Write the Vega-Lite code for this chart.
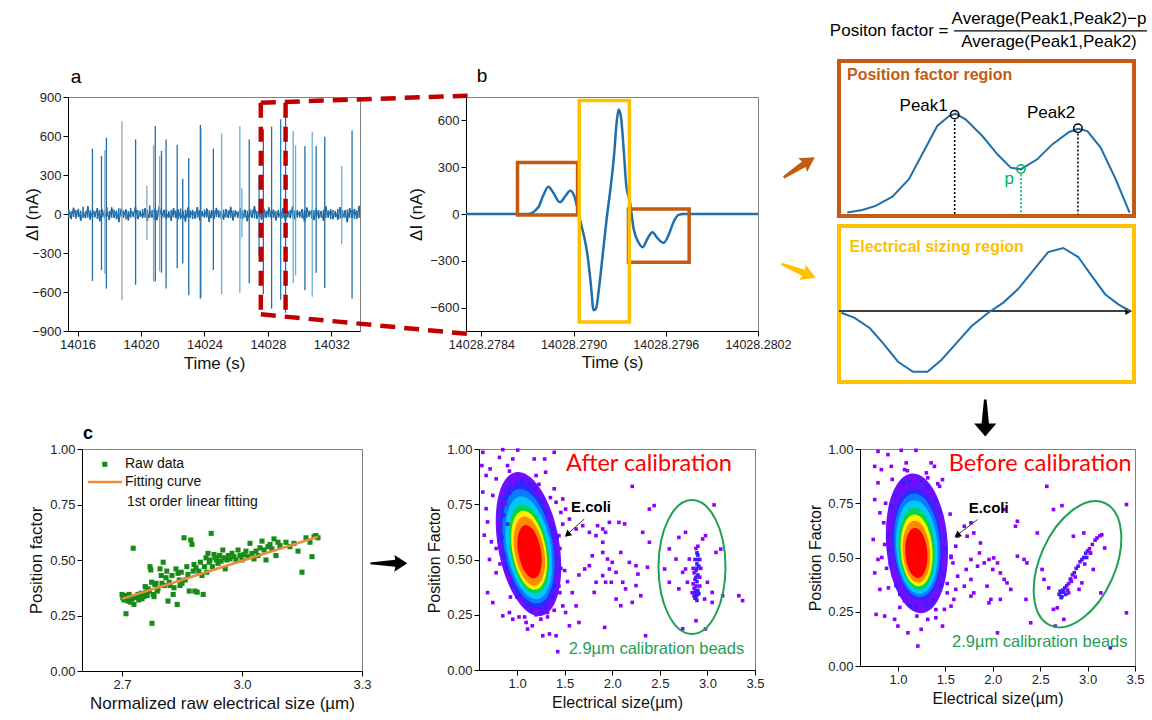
{
"$schema":"https://vega.github.io/schema/vega-lite/v6.json",
"padding":0,
"background":"white",
"config":{"view":{"stroke":null},"font":"Liberation Sans",
 "axis":{"grid":false,"domainColor":"#000","tickColor":"#000","labelColor":"#222","titleColor":"#111","labelFontSize":13,"titleFontSize":17,"titleFontWeight":"normal","labelFont":"Liberation Sans","titleFont":"Liberation Sans","tickSize":5,"domainWidth":1,"tickWidth":1,"labelOverlap":false,"labelFlush":false},
 "text":{"baseline":"middle","font":"Liberation Sans"}},
"datasets":{
"noise":[{"x":14015.45,"y":20},{"x":14015.6,"y":-35},{"x":14015.75,"y":48},{"x":14015.9,"y":-22},{"x":14016.05,"y":30},{"x":14016.2,"y":-50},{"x":14016.35,"y":15},{"x":14016.5,"y":-28},{"x":14016.65,"y":60},{"x":14016.8,"y":-40},{"x":14016.95,"y":25},{"x":14017.1,"y":-18},{"x":14017.25,"y":45},{"x":14017.4,"y":-55},{"x":14017.55,"y":32},{"x":14017.7,"y":-26},{"x":14017.85,"y":18},{"x":14018.0,"y":-44},{"x":14018.15,"y":50},{"x":14018.3,"y":-30},{"x":14018.45,"y":22},{"x":14018.6,"y":-62},{"x":14018.75,"y":40},{"x":14018.9,"y":-20},{"x":14019.05,"y":35},{"x":14019.2,"y":-48},{"x":14019.35,"y":28},{"x":14019.5,"y":-15},{"x":14019.65,"y":55},{"x":14019.8,"y":-38},{"x":14019.95,"y":20},{"x":14020.1,"y":-30},{"x":14020.25,"y":42},{"x":14020.4,"y":-52},{"x":14020.55,"y":26},{"x":14020.7,"y":-24},{"x":14020.85,"y":38},{"x":14021.0,"y":-45},{"x":14021.15,"y":58},{"x":14021.3,"y":-20},{"x":14021.45,"y":30},{"x":14021.6,"y":-36},{"x":14021.75,"y":16},{"x":14021.9,"y":-50},{"x":14022.05,"y":44},{"x":14022.2,"y":-28},{"x":14022.35,"y":34},{"x":14022.5,"y":-40},{"x":14022.65,"y":22},{"x":14022.8,"y":-58},{"x":14022.95,"y":48},{"x":14023.1,"y":-25},{"x":14023.25,"y":30},{"x":14023.4,"y":-33},{"x":14023.55,"y":52},{"x":14023.7,"y":-46},{"x":14023.85,"y":18},{"x":14024.0,"y":-22},{"x":14024.15,"y":40},{"x":14024.3,"y":-60},{"x":14024.45,"y":28},{"x":14024.6,"y":-35},{"x":14024.75,"y":46},{"x":14024.9,"y":-24},{"x":14025.05,"y":20},{"x":14025.2,"y":-42},{"x":14025.35,"y":36},{"x":14025.5,"y":-30},{"x":14025.65,"y":54},{"x":14025.8,"y":-48},{"x":14025.95,"y":24},{"x":14026.1,"y":-18},{"x":14026.25,"y":42},{"x":14026.4,"y":-38},{"x":14026.55,"y":30},{"x":14026.7,"y":-55},{"x":14026.85,"y":22},{"x":14027.0,"y":-26},{"x":14027.15,"y":60},{"x":14027.3,"y":-34},{"x":14027.45,"y":18},{"x":14027.6,"y":-44},{"x":14027.75,"y":38},{"x":14027.9,"y":-28},{"x":14028.05,"y":50},{"x":14028.2,"y":-22},{"x":14028.35,"y":32},{"x":14028.5,"y":-48},{"x":14028.65,"y":26},{"x":14028.8,"y":-36},{"x":14028.95,"y":44},{"x":14029.1,"y":-52},{"x":14029.25,"y":20},{"x":14029.4,"y":-30},{"x":14029.55,"y":56},{"x":14029.7,"y":-40},{"x":14029.85,"y":28},{"x":14030.0,"y":-24},{"x":14030.15,"y":35},{"x":14030.3,"y":-58},{"x":14030.45,"y":48},{"x":14030.6,"y":-20},{"x":14030.75,"y":30},{"x":14030.9,"y":-46},{"x":14031.05,"y":40},{"x":14031.2,"y":-32},{"x":14031.35,"y":22},{"x":14031.5,"y":-50},{"x":14031.65,"y":58},{"x":14031.8,"y":-26},{"x":14031.95,"y":34},{"x":14032.1,"y":-38},{"x":14032.25,"y":20},{"x":14032.4,"y":-44},{"x":14032.55,"y":52},{"x":14032.7,"y":-30},{"x":14032.85,"y":26},{"x":14033.0,"y":-62},{"x":14033.15,"y":45},{"x":14033.3,"y":-28},{"x":14033.45,"y":38},{"x":14033.6,"y":-36},{"x":14033.75,"y":62}],
"noiseR":[{"x":14015.45,"y":35,"y2":-28},{"x":14015.6,"y":22,"y2":-40},{"x":14015.75,"y":48,"y2":-25},{"x":14015.9,"y":30,"y2":-36},{"x":14016.05,"y":40,"y2":-22},{"x":14016.2,"y":26,"y2":-52},{"x":14016.35,"y":55,"y2":-30},{"x":14016.5,"y":20,"y2":-34},{"x":14016.65,"y":62,"y2":-28},{"x":14016.8,"y":28,"y2":-45},{"x":14016.95,"y":38,"y2":-30},{"x":14017.1,"y":24,"y2":-26},{"x":14017.25,"y":45,"y2":-38},{"x":14017.4,"y":30,"y2":-58},{"x":14017.55,"y":36,"y2":-24},{"x":14017.7,"y":28,"y2":-32},{"x":14017.85,"y":52,"y2":-20},{"x":14018.0,"y":22,"y2":-46},{"x":14018.15,"y":50,"y2":-30},{"x":14018.3,"y":34,"y2":-26},{"x":14018.45,"y":26,"y2":-40},{"x":14018.6,"y":44,"y2":-64},{"x":14018.75,"y":40,"y2":-22},{"x":14018.9,"y":28,"y2":-30},{"x":14019.05,"y":35,"y2":-42},{"x":14019.2,"y":24,"y2":-50},{"x":14019.35,"y":46,"y2":-28},{"x":14019.5,"y":20,"y2":-24},{"x":14019.65,"y":58,"y2":-36},{"x":14019.8,"y":30,"y2":-40},{"x":14019.95,"y":26,"y2":-22},{"x":14020.1,"y":38,"y2":-32},{"x":14020.25,"y":44,"y2":-26},{"x":14020.4,"y":32,"y2":-54},{"x":14020.55,"y":66,"y2":-30},{"x":14020.7,"y":30,"y2":-28},{"x":14020.85,"y":40,"y2":-44},{"x":14021.0,"y":28,"y2":-48},{"x":14021.15,"y":58,"y2":-22},{"x":14021.3,"y":24,"y2":-34},{"x":14021.45,"y":32,"y2":-26},{"x":14021.6,"y":36,"y2":-38},{"x":14021.75,"y":22,"y2":-30},{"x":14021.9,"y":30,"y2":-52},{"x":14022.05,"y":46,"y2":-24},{"x":14022.2,"y":26,"y2":-30},{"x":14022.35,"y":36,"y2":-42},{"x":14022.5,"y":42,"y2":-28},{"x":14022.65,"y":24,"y2":-34},{"x":14022.8,"y":34,"y2":-58},{"x":14022.95,"y":50,"y2":-26},{"x":14023.1,"y":28,"y2":-30},{"x":14023.25,"y":32,"y2":-40},{"x":14023.4,"y":22,"y2":-36},{"x":14023.55,"y":54,"y2":-28},{"x":14023.7,"y":30,"y2":-48},{"x":14023.85,"y":24,"y2":-22},{"x":14024.0,"y":36,"y2":-30},{"x":14024.15,"y":42,"y2":-26},{"x":14024.3,"y":28,"y2":-62},{"x":14024.45,"y":30,"y2":-32},{"x":14024.6,"y":26,"y2":-38},{"x":14024.75,"y":48,"y2":-24},{"x":14024.9,"y":30,"y2":-28},{"x":14025.05,"y":22,"y2":-34},{"x":14025.2,"y":34,"y2":-44},{"x":14025.35,"y":38,"y2":-26},{"x":14025.5,"y":28,"y2":-32},{"x":14025.65,"y":56,"y2":-30},{"x":14025.8,"y":26,"y2":-50},{"x":14025.95,"y":30,"y2":-24},{"x":14026.1,"y":20,"y2":-30},{"x":14026.25,"y":44,"y2":-36},{"x":14026.4,"y":30,"y2":-40},{"x":14026.55,"y":34,"y2":-26},{"x":14026.7,"y":26,"y2":-56},{"x":14026.85,"y":40,"y2":-24},{"x":14027.0,"y":30,"y2":-30},{"x":14027.15,"y":62,"y2":-34},{"x":14027.3,"y":24,"y2":-36},{"x":14027.45,"y":36,"y2":-22},{"x":14027.6,"y":30,"y2":-46},{"x":14027.75,"y":40,"y2":-28},{"x":14027.9,"y":26,"y2":-30},{"x":14028.05,"y":52,"y2":-24},{"x":14028.2,"y":28,"y2":-34},{"x":14028.35,"y":34,"y2":-30},{"x":14028.5,"y":24,"y2":-50},{"x":14028.65,"y":30,"y2":-28},{"x":14028.8,"y":28,"y2":-38},{"x":14028.95,"y":46,"y2":-30},{"x":14029.1,"y":32,"y2":-54},{"x":14029.25,"y":24,"y2":-26},{"x":14029.4,"y":30,"y2":-32},{"x":14029.55,"y":58,"y2":-28},{"x":14029.7,"y":26,"y2":-42},{"x":14029.85,"y":30,"y2":-30},{"x":14030.0,"y":22,"y2":-26},{"x":14030.15,"y":38,"y2":-34},{"x":14030.3,"y":30,"y2":-60},{"x":14030.45,"y":50,"y2":-28},{"x":14030.6,"y":26,"y2":-22},{"x":14030.75,"y":32,"y2":-36},{"x":14030.9,"y":28,"y2":-48},{"x":14031.05,"y":42,"y2":-30},{"x":14031.2,"y":30,"y2":-34},{"x":14031.35,"y":24,"y2":-26},{"x":14031.5,"y":34,"y2":-52},{"x":14031.65,"y":60,"y2":-30},{"x":14031.8,"y":28,"y2":-28},{"x":14031.95,"y":36,"y2":-40},{"x":14032.1,"y":30,"y2":-40},{"x":14032.25,"y":24,"y2":-26},{"x":14032.4,"y":40,"y2":-46},{"x":14032.55,"y":54,"y2":-34},{"x":14032.7,"y":30,"y2":-32},{"x":14032.85,"y":28,"y2":-28},{"x":14033.0,"y":36,"y2":-64},{"x":14033.15,"y":46,"y2":-30},{"x":14033.3,"y":30,"y2":-30},{"x":14033.45,"y":40,"y2":-38},{"x":14033.6,"y":28,"y2":-36},{"x":14033.75,"y":64,"y2":-30}],
"spikes":[{"x":14016.94,"y":502,"y2":-515,"k":"t1"},{"x":14017.51,"y":446,"y2":-431,"k":"t1"},{"x":14017.72,"y":492,"y2":-460,"k":"t3"},{"x":14017.82,"y":587,"y2":-574,"k":"t1"},{"x":14018.8,"y":713,"y2":-662,"k":"t3"},{"x":14019.66,"y":574,"y2":-544,"k":"t1"},{"x":14020.37,"y":220,"y2":-200,"k":"t3"},{"x":14020.79,"y":528,"y2":-520,"k":"t3"},{"x":14020.9,"y":677,"y2":-520,"k":"t1"},{"x":14021.17,"y":446,"y2":-441,"k":"t3"},{"x":14021.29,"y":485,"y2":-451,"k":"t1"},{"x":14021.58,"y":574,"y2":-574,"k":"t1"},{"x":14022.28,"y":533,"y2":-418,"k":"t1"},{"x":14022.63,"y":272,"y2":-380,"k":"t1"},{"x":14023.01,"y":428,"y2":-625,"k":"t1"},{"x":14023.74,"y":685,"y2":-651,"k":"t1"},{"x":14023.77,"y":660,"y2":-640,"k":"t4"},{"x":14024.56,"y":502,"y2":-431,"k":"t1"},{"x":14025.08,"y":620,"y2":-618,"k":"t2"},{"x":14026.23,"y":677,"y2":-605,"k":"t2"},{"x":14026.36,"y":200,"y2":-180,"k":"t2"},{"x":14026.82,"y":574,"y2":-533,"k":"t1"},{"x":14027.44,"y":292,"y2":-323,"k":"t4"},{"x":14027.71,"y":651,"y2":-618,"k":"t1"},{"x":14028.23,"y":672,"y2":-728,"k":"t1"},{"x":14028.8,"y":728,"y2":-660,"k":"t4"},{"x":14029.11,"y":810,"y2":-760,"k":"t1"},{"x":14029.59,"y":638,"y2":-533,"k":"t2"},{"x":14029.74,"y":528,"y2":-472,"k":"t2"},{"x":14030.33,"y":523,"y2":-587,"k":"t1"},{"x":14030.79,"y":630,"y2":-636,"k":"t2"},{"x":14031.04,"y":523,"y2":-451,"k":"t1"},{"x":14031.58,"y":595,"y2":-569,"k":"t1"},{"x":14032.65,"y":369,"y2":-233,"k":"t2"},{"x":14033.3,"y":643,"y2":-651,"k":"t1"}],
"redA":[{"x":14027.55,"y":856,"x2":14027.55,"y2":-772},{"x":14029.11,"y":856,"x2":14029.11,"y2":-772},{"x":14027.55,"y":856,"x2":14040.65,"y2":910},{"x":14027.55,"y":-772,"x2":14040.65,"y2":-923}],
"pulse":[{"x":14028.2783,"y":0},{"x":14028.278617,"y":0},{"x":14028.278704,"y":0},{"x":14028.27877,"y":43},{"x":14028.278802,"y":117},{"x":14028.278835,"y":175},{"x":14028.278867,"y":138},{"x":14028.278911,"y":75},{"x":14028.278948,"y":117},{"x":14028.278978,"y":149},{"x":14028.279004,"y":117},{"x":14028.279026,"y":32},{"x":14028.279046,"y":-53},{"x":14028.279067,"y":-138},{"x":14028.279091,"y":-266},{"x":14028.279113,"y":-457},{"x":14028.27913,"y":-617},{"x":14028.279146,"y":-606},{"x":14028.279165,"y":-479},{"x":14028.279189,"y":-266},{"x":14028.279215,"y":-32},{"x":14028.279237,"y":138},{"x":14028.279263,"y":372},{"x":14028.27928,"y":585},{"x":14028.279293,"y":670},{"x":14028.279309,"y":617},{"x":14028.279326,"y":415},{"x":14028.279343,"y":181},{"x":14028.279367,"y":75},{"x":14028.279391,"y":-96},{"x":14028.279422,"y":-181},{"x":14028.27945,"y":-213},{"x":14028.27948,"y":-160},{"x":14028.279513,"y":-117},{"x":14028.279546,"y":-155},{"x":14028.279585,"y":-185},{"x":14028.279617,"y":-138},{"x":14028.27965,"y":-53},{"x":14028.279683,"y":-6},{"x":14028.279715,"y":0},{"x":14028.2802,"y":0}],
"boxB":[{"x":14028.278635,"x2":14028.279026,"y":330,"y2":-6,"k":"o"},{"x":14028.279357,"x2":14028.279752,"y":32,"y2":-309,"k":"o"},{"x":14028.279037,"x2":14028.279363,"y":728,"y2":-692,"k":"y"}],
"pfCurve":[{"x":0.028,"y":0.022},{"x":0.079,"y":0.039},{"x":0.124,"y":0.065},{"x":0.181,"y":0.125},{"x":0.237,"y":0.237},{"x":0.282,"y":0.398},{"x":0.333,"y":0.581},{"x":0.373,"y":0.645},{"x":0.395,"y":0.66},{"x":0.429,"y":0.624},{"x":0.486,"y":0.516},{"x":0.537,"y":0.398},{"x":0.582,"y":0.312},{"x":0.616,"y":0.301},{"x":0.672,"y":0.366},{"x":0.723,"y":0.462},{"x":0.78,"y":0.542},{"x":0.811,"y":0.563},{"x":0.842,"y":0.548},{"x":0.887,"y":0.441},{"x":0.938,"y":0.237},{"x":0.985,"y":0.022}],
"pfDrop":[{"x":0.392,"y":0.62,"y2":0.01,"k":"pk"},{"x":0.81,"y":0.532,"y2":0.01,"k":"pk"},{"x":0.617,"y":0.27,"y2":0.01,"k":"p"}],
"pfMark":[{"x":0.392,"y":0.654,"k":"pk"},{"x":0.81,"y":0.566,"k":"pk"},{"x":0.617,"y":0.303,"k":"p"}],
"pfText":[{"x":0.287,"y":0.712,"s":"Peak1","k":"pk"},{"x":0.719,"y":0.665,"s":"Peak2","k":"pk"},{"x":0.577,"y":0.239,"s":"p","k":"p"}],
"esCurve":[{"x":0.008,"y":0.444},{"x":0.053,"y":0.411},{"x":0.104,"y":0.346},{"x":0.149,"y":0.249},{"x":0.2,"y":0.13},{"x":0.251,"y":0.065},{"x":0.3,"y":0.065},{"x":0.347,"y":0.141},{"x":0.398,"y":0.249},{"x":0.449,"y":0.357},{"x":0.506,"y":0.444},{"x":0.557,"y":0.509},{"x":0.607,"y":0.596},{"x":0.658,"y":0.714},{"x":0.709,"y":0.833},{"x":0.76,"y":0.859},{"x":0.811,"y":0.801},{"x":0.856,"y":0.682},{"x":0.902,"y":0.563},{"x":0.947,"y":0.498},{"x":0.986,"y":0.455}],
"cPts":[{"x":2.7,"y":0.345},{"x":2.702,"y":0.33},{"x":2.705,"y":0.32},{"x":2.708,"y":0.34},{"x":2.71,"y":0.258},{"x":2.712,"y":0.335},{"x":2.715,"y":0.315},{"x":2.718,"y":0.345},{"x":2.722,"y":0.31},{"x":2.725,"y":0.325},{"x":2.728,"y":0.553},{"x":2.73,"y":0.3},{"x":2.733,"y":0.335},{"x":2.736,"y":0.33},{"x":2.74,"y":0.345},{"x":2.742,"y":0.32},{"x":2.745,"y":0.33},{"x":2.748,"y":0.35},{"x":2.75,"y":0.325},{"x":2.752,"y":0.34},{"x":2.755,"y":0.335},{"x":2.758,"y":0.38},{"x":2.76,"y":0.355},{"x":2.763,"y":0.34},{"x":2.765,"y":0.37},{"x":2.768,"y":0.36},{"x":2.77,"y":0.47},{"x":2.772,"y":0.455},{"x":2.774,"y":0.4},{"x":2.775,"y":0.215},{"x":2.778,"y":0.345},{"x":2.78,"y":0.335},{"x":2.782,"y":0.39},{"x":2.785,"y":0.395},{"x":2.788,"y":0.36},{"x":2.79,"y":0.37},{"x":2.795,"y":0.46},{"x":2.798,"y":0.43},{"x":2.8,"y":0.395},{"x":2.803,"y":0.49},{"x":2.806,"y":0.385},{"x":2.81,"y":0.42},{"x":2.812,"y":0.45},{"x":2.815,"y":0.315},{"x":2.818,"y":0.4},{"x":2.82,"y":0.385},{"x":2.825,"y":0.43},{"x":2.828,"y":0.345},{"x":2.83,"y":0.375},{"x":2.835,"y":0.46},{"x":2.838,"y":0.3},{"x":2.84,"y":0.44},{"x":2.843,"y":0.41},{"x":2.845,"y":0.385},{"x":2.848,"y":0.445},{"x":2.85,"y":0.395},{"x":2.855,"y":0.6},{"x":2.858,"y":0.41},{"x":2.862,"y":0.47},{"x":2.865,"y":0.435},{"x":2.868,"y":0.36},{"x":2.872,"y":0.59},{"x":2.875,"y":0.57},{"x":2.878,"y":0.45},{"x":2.88,"y":0.48},{"x":2.882,"y":0.36},{"x":2.885,"y":0.465},{"x":2.888,"y":0.355},{"x":2.892,"y":0.45},{"x":2.896,"y":0.49},{"x":2.9,"y":0.43},{"x":2.903,"y":0.345},{"x":2.906,"y":0.47},{"x":2.91,"y":0.51},{"x":2.912,"y":0.445},{"x":2.915,"y":0.53},{"x":2.918,"y":0.49},{"x":2.92,"y":0.5},{"x":2.923,"y":0.62},{"x":2.926,"y":0.47},{"x":2.93,"y":0.525},{"x":2.933,"y":0.51},{"x":2.936,"y":0.5},{"x":2.94,"y":0.485},{"x":2.944,"y":0.52},{"x":2.948,"y":0.495},{"x":2.952,"y":0.545},{"x":2.955,"y":0.51},{"x":2.958,"y":0.46},{"x":2.962,"y":0.5},{"x":2.966,"y":0.52},{"x":2.97,"y":0.505},{"x":2.975,"y":0.53},{"x":2.98,"y":0.515},{"x":2.985,"y":0.5},{"x":2.99,"y":0.545},{"x":2.995,"y":0.52},{"x":3.0,"y":0.5},{"x":3.005,"y":0.525},{"x":3.01,"y":0.54},{"x":3.015,"y":0.515},{"x":3.02,"y":0.575},{"x":3.025,"y":0.53},{"x":3.03,"y":0.505},{"x":3.035,"y":0.54},{"x":3.04,"y":0.52},{"x":3.045,"y":0.555},{"x":3.05,"y":0.585},{"x":3.055,"y":0.545},{"x":3.06,"y":0.5},{"x":3.065,"y":0.56},{"x":3.07,"y":0.57},{"x":3.075,"y":0.55},{"x":3.08,"y":0.595},{"x":3.085,"y":0.52},{"x":3.09,"y":0.58},{"x":3.095,"y":0.565},{"x":3.11,"y":0.58},{"x":3.12,"y":0.56},{"x":3.13,"y":0.575},{"x":3.14,"y":0.54},{"x":3.15,"y":0.445},{"x":3.16,"y":0.6},{"x":3.17,"y":0.58},{"x":3.175,"y":0.515},{"x":3.18,"y":0.605},{"x":3.185,"y":0.61},{"x":3.19,"y":0.6}],
"sA":[{"x":0.64,"y":0.985,"k":"p"},{"x":0.85,"y":0.997,"k":"p"},{"x":1.007,"y":0.995,"k":"p"},{"x":0.63,"y":0.925,"k":"p"},{"x":0.717,"y":0.91,"k":"p"},{"x":0.815,"y":0.962,"k":"p"},{"x":0.9,"y":0.925,"k":"p"},{"x":0.955,"y":0.955,"k":"p"},{"x":0.92,"y":0.9,"k":"p"},{"x":0.675,"y":0.88,"k":"p"},{"x":0.78,"y":0.865,"k":"p"},{"x":1.18,"y":0.955,"k":"p"},{"x":1.39,"y":0.985,"k":"p"},{"x":1.29,"y":0.955,"k":"p"},{"x":1.3,"y":0.895,"k":"p"},{"x":1.23,"y":0.84,"k":"p"},{"x":1.39,"y":0.82,"k":"p"},{"x":1.2,"y":0.88,"k":"p"},{"x":0.64,"y":0.805,"k":"p"},{"x":0.675,"y":0.73,"k":"p"},{"x":0.745,"y":0.79,"k":"p"},{"x":0.69,"y":0.67,"k":"p"},{"x":0.655,"y":0.61,"k":"p"},{"x":0.73,"y":0.58,"k":"p"},{"x":0.71,"y":0.5,"k":"p"},{"x":0.78,"y":0.44,"k":"p"},{"x":0.69,"y":0.35,"k":"p"},{"x":0.745,"y":0.305,"k":"p"},{"x":0.85,"y":0.245,"k":"p"},{"x":0.955,"y":0.23,"k":"p"},{"x":0.92,"y":0.26,"k":"p"},{"x":1.02,"y":0.24,"k":"p"},{"x":1.095,"y":0.215,"k":"p"},{"x":1.16,"y":0.2,"k":"p"},{"x":1.11,"y":0.185,"k":"p"},{"x":1.27,"y":0.155,"k":"p"},{"x":1.34,"y":0.163,"k":"p"},{"x":1.41,"y":0.155,"k":"p"},{"x":1.427,"y":0.083,"k":"p"},{"x":1.25,"y":0.23,"k":"p"},{"x":1.32,"y":0.26,"k":"p"},{"x":1.39,"y":0.27,"k":"p"},{"x":1.48,"y":0.29,"k":"p"},{"x":1.51,"y":0.26,"k":"p"},{"x":1.55,"y":0.2,"k":"p"},{"x":1.62,"y":0.29,"k":"p"},{"x":1.65,"y":0.215,"k":"p"},{"x":1.44,"y":0.38,"k":"p"},{"x":1.53,"y":0.4,"k":"p"},{"x":1.58,"y":0.35,"k":"p"},{"x":1.65,"y":0.43,"k":"p"},{"x":1.71,"y":0.457,"k":"p"},{"x":1.76,"y":0.472,"k":"p"},{"x":1.79,"y":0.517,"k":"p"},{"x":1.83,"y":0.608,"k":"p"},{"x":1.846,"y":0.653,"k":"p"},{"x":1.9,"y":0.638,"k":"p"},{"x":1.93,"y":0.623,"k":"p"},{"x":1.97,"y":0.668,"k":"p"},{"x":1.76,"y":0.623,"k":"p"},{"x":1.69,"y":0.653,"k":"p"},{"x":1.62,"y":0.638,"k":"p"},{"x":1.55,"y":0.683,"k":"p"},{"x":1.51,"y":0.728,"k":"p"},{"x":1.46,"y":0.713,"k":"p"},{"x":1.41,"y":0.759,"k":"p"},{"x":1.48,"y":0.774,"k":"p"},{"x":1.9,"y":0.532,"k":"p"},{"x":1.95,"y":0.502,"k":"p"},{"x":2.0,"y":0.487,"k":"p"},{"x":2.04,"y":0.442,"k":"p"},{"x":1.9,"y":0.427,"k":"p"},{"x":1.93,"y":0.397,"k":"p"},{"x":1.97,"y":0.457,"k":"p"},{"x":1.83,"y":0.397,"k":"p"},{"x":1.81,"y":0.351,"k":"p"},{"x":2.04,"y":0.321,"k":"p"},{"x":2.09,"y":0.291,"k":"p"},{"x":2.11,"y":0.397,"k":"p"},{"x":2.14,"y":0.367,"k":"p"},{"x":2.18,"y":0.487,"k":"p"},{"x":2.25,"y":0.472,"k":"p"},{"x":2.27,"y":0.434,"k":"p"},{"x":2.3,"y":0.336,"k":"p"},{"x":2.32,"y":0.623,"k":"p"},{"x":2.39,"y":0.728,"k":"p"},{"x":2.44,"y":0.744,"k":"p"},{"x":2.21,"y":0.831,"k":"p"},{"x":2.07,"y":0.668,"k":"p"},{"x":2.39,"y":0.578,"k":"p"},{"x":2.37,"y":0.465,"k":"p"},{"x":2.25,"y":0.382,"k":"p"},{"x":2.21,"y":0.306,"k":"p"},{"x":2.35,"y":0.155,"k":"p"},{"x":1.92,"y":0.193,"k":"p"},{"x":1.9,"y":0.578,"k":"p"},{"x":2.13,"y":0.661,"k":"p"},{"x":2.09,"y":0.532,"k":"p"},{"x":1.99,"y":0.397,"k":"p"},{"x":1.41,"y":0.578,"k":"p"},{"x":1.37,"y":0.653,"k":"p"},{"x":1.44,"y":0.608,"k":"p"},{"x":3.37,"y":0.314,"k":"p"},{"x":3.33,"y":0.336,"k":"p"},{"x":3.16,"y":0.336,"k":"p"},{"x":3.07,"y":0.747,"k":"p"},{"x":3.14,"y":0.547,"k":"p"},{"x":3.05,"y":0.306,"k":"p"},{"x":2.98,"y":0.186,"k":"p"},{"x":2.88,"y":0.223,"k":"p"},{"x":2.74,"y":0.186,"k":"p"},{"x":2.6,"y":0.397,"k":"p"},{"x":2.7,"y":0.367,"k":"p"},{"x":2.67,"y":0.502,"k":"p"},{"x":2.7,"y":0.6,"k":"p"},{"x":2.77,"y":0.623,"k":"p"},{"x":2.6,"y":0.548,"k":"p"},{"x":2.55,"y":0.457,"k":"p"},{"x":2.95,"y":0.593,"k":"p"},{"x":2.98,"y":0.608,"k":"p"},{"x":3.09,"y":0.532,"k":"p"},{"x":3.05,"y":0.351,"k":"p"},{"x":2.97,"y":0.321,"k":"p"},{"x":2.77,"y":0.457,"k":"p"},{"x":2.81,"y":0.502,"k":"p"},{"x":2.79,"y":0.397,"k":"p"},{"x":2.74,"y":0.442,"k":"p"},{"x":3.0,"y":0.397,"k":"p"},
{"x":0.84,"y":0.6,"k":"b"},{"x":0.86,"y":0.7,"k":"b"},{"x":0.88,"y":0.75,"k":"p"},{"x":0.92,"y":0.8,"k":"b"},{"x":0.96,"y":0.84,"k":"p"},{"x":1.0,"y":0.83,"k":"b"},{"x":1.05,"y":0.86,"k":"b"},{"x":1.1,"y":0.87,"k":"p"},{"x":1.13,"y":0.84,"k":"b"},{"x":1.18,"y":0.82,"k":"b"},{"x":1.22,"y":0.8,"k":"p"},{"x":1.26,"y":0.76,"k":"b"},{"x":1.3,"y":0.72,"k":"b"},{"x":1.33,"y":0.68,"k":"p"},{"x":1.38,"y":0.64,"k":"b"},{"x":1.42,"y":0.6,"k":"b"},{"x":1.45,"y":0.55,"k":"p"},{"x":1.43,"y":0.5,"k":"b"},{"x":1.46,"y":0.46,"k":"b"},{"x":1.42,"y":0.42,"k":"p"},{"x":1.4,"y":0.38,"k":"b"},{"x":1.38,"y":0.33,"k":"b"},{"x":1.35,"y":0.3,"k":"p"},{"x":1.3,"y":0.28,"k":"b"},{"x":1.26,"y":0.26,"k":"b"},{"x":1.2,"y":0.25,"k":"p"},{"x":1.15,"y":0.27,"k":"b"},{"x":1.1,"y":0.29,"k":"b"},{"x":1.05,"y":0.31,"k":"p"},{"x":1.0,"y":0.33,"k":"b"},{"x":0.95,"y":0.38,"k":"b"},{"x":0.92,"y":0.42,"k":"p"},{"x":0.88,"y":0.46,"k":"b"},{"x":0.86,"y":0.52,"k":"b"},{"x":0.83,"y":0.56,"k":"p"},{"x":0.9,"y":0.66,"k":"b"},{"x":0.8,"y":0.65,"k":"p"},{"x":0.82,"y":0.48,"k":"p"},{"x":0.98,"y":0.88,"k":"p"},{"x":1.35,"y":0.78,"k":"p"},{"x":1.48,"y":0.66,"k":"p"},{"x":1.5,"y":0.45,"k":"p"},{"x":1.45,"y":0.35,"k":"p"},{"x":1.32,"y":0.24,"k":"p"},{"x":1.08,"y":0.24,"k":"p"},{"x":0.93,"y":0.33,"k":"p"},{"x":0.78,"y":0.55,"k":"p"},{"x":0.85,"y":0.8,"k":"p"}],
"eA":[{"x":1.12,"y":0.57,"k":"L0","lv":0},{"x":1.115,"y":0.566,"k":"L1","lv":1},{"x":1.12,"y":0.56,"k":"L2","lv":2},{"x":1.122,"y":0.553,"k":"L3","lv":3},{"x":1.125,"y":0.547,"k":"L4","lv":4},{"x":1.127,"y":0.542,"k":"L5","lv":5},{"x":1.13,"y":0.538,"k":"L6","lv":6},{"x":1.132,"y":0.535,"k":"L7","lv":7}],
"bA":[{"x":2.88,"y":0.55,"k":"p"},{"x":2.9,"y":0.52,"k":"b"},{"x":2.87,"y":0.5,"k":"b"},{"x":2.89,"y":0.48,"k":"b"},{"x":2.91,"y":0.47,"k":"b"},{"x":2.88,"y":0.45,"k":"b"},{"x":2.86,"y":0.44,"k":"p"},{"x":2.9,"y":0.43,"k":"b"},{"x":2.87,"y":0.41,"k":"b"},{"x":2.89,"y":0.4,"k":"b"},{"x":2.88,"y":0.38,"k":"b"},{"x":2.86,"y":0.37,"k":"p"},{"x":2.9,"y":0.36,"k":"b"},{"x":2.87,"y":0.35,"k":"b"},{"x":2.89,"y":0.34,"k":"b"},{"x":2.88,"y":0.33,"k":"b"},{"x":2.86,"y":0.335,"k":"b"},{"x":2.91,"y":0.345,"k":"b"},{"x":2.87,"y":0.325,"k":"b"},{"x":2.89,"y":0.53,"k":"b"},{"x":2.92,"y":0.5,"k":"p"},{"x":2.85,"y":0.46,"k":"p"},{"x":2.88,"y":0.42,"k":"b"},{"x":2.92,"y":0.42,"k":"p"},{"x":2.85,"y":0.39,"k":"p"},{"x":2.9,"y":0.56,"k":"p"},{"x":2.93,"y":0.46,"k":"p"},{"x":2.84,"y":0.35,"k":"p"},{"x":2.89,"y":0.315,"k":"b"},{"x":2.92,"y":0.38,"k":"p"},{"x":2.9,"y":0.5,"k":"b"},{"x":2.89,"y":0.46,"k":"b"},{"x":2.88,"y":0.36,"k":"b"}],
"sB":[{"x":0.79,"y":0.989,"k":"p"},{"x":0.895,"y":0.974,"k":"p"},{"x":1.035,"y":0.994,"k":"p"},{"x":1.19,"y":0.994,"k":"p"},{"x":0.755,"y":0.92,"k":"p"},{"x":0.825,"y":0.905,"k":"p"},{"x":0.93,"y":0.92,"k":"p"},{"x":1.07,"y":0.905,"k":"p"},{"x":1.087,"y":0.936,"k":"p"},{"x":1.14,"y":0.874,"k":"p"},{"x":1.35,"y":0.936,"k":"p"},{"x":1.385,"y":0.92,"k":"p"},{"x":1.315,"y":0.867,"k":"p"},{"x":1.47,"y":0.859,"k":"p"},{"x":1.44,"y":0.828,"k":"p"},{"x":0.79,"y":0.844,"k":"p"},{"x":0.755,"y":0.767,"k":"p"},{"x":0.81,"y":0.706,"k":"p"},{"x":0.74,"y":0.583,"k":"p"},{"x":0.79,"y":0.491,"k":"p"},{"x":0.755,"y":0.429,"k":"p"},{"x":0.81,"y":0.353,"k":"p"},{"x":0.77,"y":0.238,"k":"p"},{"x":0.86,"y":0.23,"k":"p"},{"x":0.965,"y":0.215,"k":"p"},{"x":1.0,"y":0.184,"k":"p"},{"x":1.105,"y":0.153,"k":"p"},{"x":1.21,"y":0.092,"k":"p"},{"x":1.245,"y":0.169,"k":"p"},{"x":1.315,"y":0.215,"k":"p"},{"x":1.4,"y":0.222,"k":"p"},{"x":1.49,"y":0.261,"k":"p"},{"x":1.47,"y":0.184,"k":"p"},{"x":1.56,"y":0.276,"k":"p"},{"x":1.59,"y":0.307,"k":"p"},{"x":1.52,"y":0.337,"k":"p"},{"x":1.61,"y":0.353,"k":"p"},{"x":1.63,"y":0.414,"k":"p"},{"x":1.58,"y":0.475,"k":"p"},{"x":1.56,"y":0.506,"k":"p"},{"x":1.61,"y":0.552,"k":"p"},{"x":1.63,"y":0.598,"k":"p"},{"x":1.7,"y":0.644,"k":"p"},{"x":1.77,"y":0.66,"k":"p"},{"x":1.73,"y":0.598,"k":"p"},{"x":1.8,"y":0.613,"k":"p"},{"x":1.87,"y":0.567,"k":"p"},{"x":1.86,"y":0.521,"k":"p"},{"x":1.77,"y":0.491,"k":"p"},{"x":1.84,"y":0.46,"k":"p"},{"x":1.72,"y":0.445,"k":"p"},{"x":1.77,"y":0.399,"k":"p"},{"x":1.7,"y":0.368,"k":"p"},{"x":1.8,"y":0.337,"k":"p"},{"x":1.77,"y":0.322,"k":"p"},{"x":1.91,"y":0.475,"k":"p"},{"x":1.96,"y":0.491,"k":"p"},{"x":2.01,"y":0.498,"k":"p"},{"x":2.05,"y":0.475,"k":"p"},{"x":2.0,"y":0.445,"k":"p"},{"x":2.08,"y":0.429,"k":"p"},{"x":2.12,"y":0.399,"k":"p"},{"x":2.15,"y":0.383,"k":"p"},{"x":1.94,"y":0.368,"k":"p"},{"x":1.98,"y":0.307,"k":"p"},{"x":1.96,"y":0.291,"k":"p"},{"x":2.08,"y":0.307,"k":"p"},{"x":2.19,"y":0.353,"k":"p"},{"x":2.26,"y":0.506,"k":"p"},{"x":2.33,"y":0.491,"k":"p"},{"x":2.36,"y":0.475,"k":"p"},{"x":2.35,"y":0.307,"k":"p"},{"x":2.05,"y":0.153,"k":"p"},{"x":2.26,"y":0.667,"k":"p"},{"x":2.24,"y":0.644,"k":"p"},{"x":2.12,"y":0.721,"k":"p"},{"x":2.47,"y":0.613,"k":"p"},{"x":2.57,"y":0.828,"k":"p"},{"x":2.64,"y":0.721,"k":"p"},{"x":2.73,"y":0.739,"k":"p"},{"x":2.4,"y":0.199,"k":"p"},{"x":2.52,"y":0.445,"k":"p"},{"x":2.54,"y":0.399,"k":"p"},{"x":2.59,"y":0.36,"k":"p"},{"x":2.64,"y":0.261,"k":"p"},{"x":2.66,"y":0.184,"k":"p"},{"x":2.75,"y":0.215,"k":"p"},{"x":2.96,"y":0.613,"k":"p"},{"x":2.85,"y":0.598,"k":"p"},{"x":3.06,"y":0.445,"k":"p"},{"x":3.18,"y":0.544,"k":"p"},{"x":3.14,"y":0.337,"k":"p"},{"x":3.41,"y":0.744,"k":"p"},{"x":3.41,"y":0.245,"k":"p"},{"x":3.24,"y":0.084,"k":"p"},{"x":3.03,"y":0.521,"k":"p"},{"x":2.82,"y":0.399,"k":"p"},{"x":2.8,"y":0.337,"k":"p"},{"x":2.91,"y":0.353,"k":"p"},{"x":2.94,"y":0.383,"k":"p"},{"x":2.68,"y":0.268,"k":"p"},
{"x":0.9,"y":0.6,"k":"b"},{"x":0.91,"y":0.68,"k":"p"},{"x":0.93,"y":0.74,"k":"b"},{"x":0.97,"y":0.79,"k":"b"},{"x":1.01,"y":0.82,"k":"p"},{"x":1.06,"y":0.84,"k":"b"},{"x":1.12,"y":0.85,"k":"b"},{"x":1.18,"y":0.86,"k":"p"},{"x":1.24,"y":0.85,"k":"b"},{"x":1.3,"y":0.83,"k":"b"},{"x":1.35,"y":0.8,"k":"p"},{"x":1.4,"y":0.76,"k":"b"},{"x":1.44,"y":0.71,"k":"b"},{"x":1.47,"y":0.65,"k":"p"},{"x":1.49,"y":0.6,"k":"b"},{"x":1.5,"y":0.54,"k":"b"},{"x":1.49,"y":0.48,"k":"p"},{"x":1.48,"y":0.42,"k":"b"},{"x":1.45,"y":0.37,"k":"b"},{"x":1.41,"y":0.33,"k":"p"},{"x":1.37,"y":0.3,"k":"b"},{"x":1.31,"y":0.28,"k":"b"},{"x":1.25,"y":0.27,"k":"p"},{"x":1.19,"y":0.27,"k":"b"},{"x":1.13,"y":0.28,"k":"b"},{"x":1.07,"y":0.3,"k":"p"},{"x":1.02,"y":0.33,"k":"b"},{"x":0.98,"y":0.37,"k":"b"},{"x":0.95,"y":0.42,"k":"p"},{"x":0.92,"y":0.47,"k":"b"},{"x":0.91,"y":0.53,"k":"b"},{"x":0.86,"y":0.56,"k":"p"},{"x":0.85,"y":0.66,"k":"p"},{"x":0.88,"y":0.45,"k":"p"},{"x":0.94,"y":0.86,"k":"p"},{"x":1.1,"y":0.9,"k":"p"},{"x":1.3,"y":0.89,"k":"p"},{"x":1.42,"y":0.84,"k":"p"},{"x":1.55,"y":0.7,"k":"p"},{"x":1.56,"y":0.5,"k":"p"},{"x":1.52,"y":0.38,"k":"p"},{"x":1.4,"y":0.26,"k":"p"},{"x":1.2,"y":0.23,"k":"p"},{"x":1.02,"y":0.27,"k":"p"},{"x":0.9,"y":0.36,"k":"p"},{"x":0.83,"y":0.5,"k":"p"},{"x":0.87,"y":0.75,"k":"p"}],
"eB":[{"x":1.2,"y":0.565,"k":"L0","lv":0},{"x":1.205,"y":0.562,"k":"L1","lv":1},{"x":1.203,"y":0.556,"k":"L2","lv":2},{"x":1.2,"y":0.548,"k":"L3","lv":3},{"x":1.198,"y":0.54,"k":"L4","lv":4},{"x":1.197,"y":0.533,"k":"L5","lv":5},{"x":1.195,"y":0.527,"k":"L6","lv":6},{"x":1.194,"y":0.521,"k":"L7","lv":7}],
"bB":[{"x":2.7,"y":0.33,"k":"b"},{"x":2.72,"y":0.34,"k":"b"},{"x":2.74,"y":0.35,"k":"b"},{"x":2.73,"y":0.32,"k":"b"},{"x":2.76,"y":0.36,"k":"b"},{"x":2.75,"y":0.34,"k":"b"},{"x":2.78,"y":0.37,"k":"b"},{"x":2.8,"y":0.38,"k":"p"},{"x":2.82,"y":0.4,"k":"b"},{"x":2.84,"y":0.42,"k":"p"},{"x":2.83,"y":0.39,"k":"p"},{"x":2.86,"y":0.43,"k":"b"},{"x":2.88,"y":0.45,"k":"p"},{"x":2.9,"y":0.46,"k":"b"},{"x":2.92,"y":0.48,"k":"p"},{"x":2.94,"y":0.49,"k":"b"},{"x":2.96,"y":0.5,"k":"b"},{"x":2.98,"y":0.52,"k":"b"},{"x":3.0,"y":0.53,"k":"b"},{"x":3.02,"y":0.54,"k":"p"},{"x":3.05,"y":0.56,"k":"p"},{"x":3.08,"y":0.58,"k":"p"},{"x":3.1,"y":0.59,"k":"p"},{"x":3.13,"y":0.6,"k":"p"},{"x":3.15,"y":0.605,"k":"p"},{"x":2.97,"y":0.47,"k":"p"},{"x":3.03,"y":0.52,"k":"p"},{"x":2.87,"y":0.41,"k":"p"},{"x":2.79,"y":0.35,"k":"p"},{"x":2.71,"y":0.345,"k":"b"},{"x":2.72,"y":0.315,"k":"b"},{"x":2.77,"y":0.33,"k":"b"},{"x":2.99,"y":0.5,"k":"b"}]
},
"bounds":"full","spacing":0,
"resolve":{"scale":{"color":"independent","size":"independent"}},
"vconcat":[
{"bounds":"flush","spacing":0,"center":true,"resolve":{"scale":{"color":"independent","size":"independent"}},
 "hconcat":[
 {"width":292,"height":234,"view":{"stroke":"#808080"},
  "encoding":{"x":{"field":"x","type":"quantitative","scale":{"domain":[14015.4,14033.8],"nice":false,"zero":false},"axis":{"title":"Time (s)","values":[14016,14020,14024,14028,14032],"format":"d"}},
   "y":{"field":"y","type":"quantitative","scale":{"domain":[-900,900],"nice":false},"axis":{"title":"ΔI (nA)","values":[-900,-600,-300,0,300,600,900],"format":"d","titlePadding":-10}}},
  "layer":[
   {"data":{"name":"noiseR"},"mark":{"type":"rule","color":"#1f6fad","strokeWidth":1.6},"encoding":{"y2":{"field":"y2"}}},
   {"data":{"name":"noise"},"mark":{"type":"line","color":"#1a64a0","strokeWidth":1}},
   {"data":{"name":"spikes"},"mark":{"type":"rule","strokeWidth":1.3},"encoding":{"y2":{"field":"y2"},"color":{"field":"k","type":"nominal","scale":{"domain":["t1","t2","t3","t4"],"range":["#1f6fad","#62b0dd","#8ea6b8","#2b7bbf"]},"legend":null}}},
   {"data":{"name":"redA"},"mark":{"type":"rule","color":"#c00000","strokeWidth":4.5,"strokeDash":[15,9]},"encoding":{"x2":{"field":"x2"},"y2":{"field":"y2"}}},
   {"data":{"values":[{"x":14015.9,"y":1051,"s":"a"}]},"mark":{"type":"text","fontSize":19,"color":"#000"},"encoding":{"text":{"field":"s"}}},
   {"data":{"values":[{"x":14011.241,"y":1630.77},{"x":14020,"y":-1384.6}]},"mark":{"type":"point","filled":true,"size":1,"opacity":0,"strokeWidth":0}}
  ]},
 {"width":106,"height":1,"data":{"values":[{"z":0}]},"mark":{"type":"point","opacity":0}},
 {"width":292,"height":234,"view":{"stroke":"#808080"},
  "encoding":{"x":{"field":"x","type":"quantitative","scale":{"domain":[14028.2783,14028.2802],"nice":false,"zero":false},"axis":{"title":"Time (s)","values":[14028.2784,14028.279,14028.2796,14028.2802],"format":".4f","labelFontSize":12.5}},
   "y":{"field":"y","type":"quantitative","scale":{"domain":[-750,750],"nice":false},"axis":{"title":"ΔI (nA)","values":[-600,-300,0,300,600],"format":"d"}}},
  "layer":[
   {"data":{"name":"pulse"},"mark":{"type":"line","color":"#1f6fad","strokeWidth":2.5,"interpolate":"monotone"}},
   {"data":{"name":"boxB"},"mark":{"type":"rect","filled":false,"strokeWidth":3.5},"encoding":{"x2":{"field":"x2"},"y2":{"field":"y2"},"color":{"field":"k","type":"nominal","scale":{"domain":["o","y"],"range":["#C55A11","#FFC000"]},"legend":null}}},
   {"data":{"values":[{"x":14028.278404,"y":886,"s":"b"}]},"mark":{"type":"text","fontSize":19,"color":"#000"},"encoding":{"text":{"field":"s"}}}
  ]},
 {"width":81,"height":1,"data":{"values":[{"z":0}]},"mark":{"type":"point","opacity":0}},
 {"width":295,"height":336,
  "resolve":{"scale":{"y":"independent","color":"independent"}},
  "layer":[
   {"encoding":{"x":{"field":"x","type":"quantitative","scale":{"domain":[0,1],"nice":false},"axis":null},"y":{"field":"y","type":"quantitative","scale":{"domain":[-1.071,1.0968],"nice":false},"axis":null}},
    "layer":[
     {"data":{"values":[{"x":0,"x2":1,"y":0,"y2":1}]},"mark":{"type":"rect","filled":false,"color":"#C55A11","strokeWidth":4},"encoding":{"x2":{"field":"x2"},"y2":{"field":"y2"}}},
     {"data":{"name":"pfCurve"},"mark":{"type":"line","color":"#1f6fad","strokeWidth":2}},
     {"data":{"name":"pfDrop"},"mark":{"type":"rule","strokeWidth":1.6,"strokeDash":[2,2]},"encoding":{"y2":{"field":"y2"},"color":{"field":"k","type":"nominal","scale":{"domain":["pk","p"],"range":["#000000","#00B050"]},"legend":null}}},
     {"data":{"name":"pfMark"},"mark":{"type":"point","size":70,"strokeWidth":1.5,"filled":false,"opacity":1},"encoding":{"color":{"field":"k","type":"nominal","scale":{"domain":["pk","p"],"range":["#000000","#00B050"]},"legend":null}}},
     {"data":{"name":"pfText"},"mark":{"type":"text","fontSize":17},"encoding":{"text":{"field":"s"},"color":{"field":"k","type":"nominal","scale":{"domain":["pk","p"],"range":["#000000","#00B050"]},"legend":null}}},
     {"data":{"values":[{"x":0.027,"y":0.91,"s":"Position factor region"}]},"mark":{"type":"text","align":"left","fontWeight":"bold","fontSize":16,"color":"#C55A11"},"encoding":{"text":{"field":"s"}}},
     {"data":{"values":[{"x":-0.031,"y":1.194,"s":"Positon factor ="}]},"mark":{"type":"text","align":"left","fontSize":17,"color":"#000"},"encoding":{"text":{"field":"s"}}},
     {"data":{"values":[{"x":0.712,"y":1.271,"s":"Average(Peak1,Peak2)−p"},{"x":0.712,"y":1.123,"s":"Average(Peak1,Peak2)"}]},"mark":{"type":"text","align":"center","fontSize":17,"color":"#000"},"encoding":{"text":{"field":"s"}}},
     {"data":{"values":[{"x":0.39,"x2":1.044,"y":1.194}]},"mark":{"type":"rule","color":"#000","strokeWidth":1.2},"encoding":{"x2":{"field":"x2"}}},
     {"data":{"values":[{"x":-0.135,"y":0.314}]},"mark":{"type":"point","filled":true,"color":"#C55A11","opacity":1,"size":1369,"angle":-33,"shape":"M-1,-0.07 L0.3,-0.18 L0.22,-0.45 L1,0 L0.22,0.45 L0.3,0.18 L-1,0.07 Z"}}
    ]},
   {"encoding":{"x":{"field":"x","type":"quantitative","scale":{"domain":[0,1],"nice":false},"axis":null},"y":{"field":"y","type":"quantitative","scale":{"domain":[0,2.1538],"nice":false},"axis":null}},
    "layer":[
     {"data":{"values":[{"x":0,"x2":1,"y":0,"y2":1}]},"mark":{"type":"rect","filled":false,"color":"#FFC000","strokeWidth":4},"encoding":{"x2":{"field":"x2"},"y2":{"field":"y2"}}},
     {"data":{"values":[{"x":0.0,"x2":0.975,"y":0.455}]},"mark":{"type":"rule","color":"#000","strokeWidth":1.5},"encoding":{"x2":{"field":"x2"}}},
     {"data":{"values":[{"x":0.982,"y":0.455}]},"mark":{"type":"point","shape":"triangle-right","filled":true,"color":"#000","opacity":1,"size":60}},
     {"data":{"name":"esCurve"},"mark":{"type":"line","color":"#1f6fad","strokeWidth":2}},
     {"data":{"values":[{"x":0.036,"y":0.863,"s":"Electrical sizing region"}]},"mark":{"type":"text","align":"left","fontWeight":"bold","fontSize":16,"color":"#FFC000"},"encoding":{"text":{"field":"s"}}},
     {"data":{"values":[{"x":-0.137,"y":0.713}]},"mark":{"type":"point","filled":true,"color":"#FFC000","opacity":1,"size":1369,"angle":22,"shape":"M-1,-0.07 L0.3,-0.18 L0.22,-0.45 L1,0 L0.22,0.45 L0.3,0.18 L-1,0.07 Z"}}
    ]}
  ]}
 ]},
{"bounds":"flush","spacing":0,"resolve":{"scale":{"color":"independent","size":"independent"}},
 "hconcat":[
 {"width":14,"height":1,"data":{"values":[{"z":0}]},"mark":{"type":"point","opacity":0}},
 {"width":280,"height":222,"view":{"stroke":"#808080"},
  "encoding":{"x":{"field":"x","type":"quantitative","scale":{"domain":[2.6,3.3],"nice":false,"zero":false},"axis":{"title":"Normalized raw electrical size (µm)","values":[2.7,3.0,3.3],"format":".1f"}},
   "y":{"field":"y","type":"quantitative","scale":{"domain":[0,1],"nice":false},"axis":{"title":"Position factor","values":[0,0.25,0.5,0.75,1],"format":".2f"}}},
  "layer":[
   {"data":{"name":"cPts"},"mark":{"type":"point","shape":"square","filled":true,"color":"#168C16","opacity":1,"size":26}},
   {"data":{"values":[{"x":2.7,"y":0.325},{"x":3.19,"y":0.605}]},"mark":{"type":"line","color":"#EC8B3A","strokeWidth":2.5}},
   {"data":{"values":[{"x":2.657,"y":0.931}]},"mark":{"type":"point","shape":"square","filled":true,"color":"#168C16","opacity":1,"size":26}},
   {"data":{"values":[{"x":2.615,"x2":2.7,"y":0.851}]},"mark":{"type":"rule","color":"#EC8B3A","strokeWidth":2.5},"encoding":{"x2":{"field":"x2"}}},
   {"data":{"values":[{"x":2.7075,"y":0.931,"s":"Raw data"},{"x":2.7075,"y":0.851,"s":"Fitting curve"},{"x":2.7125,"y":0.761,"s":"1st order linear fitting"}]},"mark":{"type":"text","align":"left","fontSize":14,"color":"#111"},"encoding":{"text":{"field":"s"}}},
   {"data":{"values":[{"x":2.615,"y":1.0676,"s":"c"}]},"mark":{"type":"text","fontSize":18,"fontWeight":"bold","color":"#000"},"encoding":{"text":{"field":"s"}}},
   {"data":{"values":[{"x":3.367,"y":0.485}]},"mark":{"type":"point","filled":true,"color":"#000","opacity":1,"size":1369,"shape":"M-1,-0.05 L0.35,-0.19 L0.3,-0.45 L1,0 L0.3,0.45 L0.35,0.19 L-1,0.05 Z"}},
   {"data":{"values":[{"x":2.4,"y":1.2387}]},"mark":{"type":"point","filled":true,"size":1,"opacity":0,"strokeWidth":0}}
  ]},
 {"width":117,"height":1,"data":{"values":[{"z":0}]},"mark":{"type":"point","opacity":0}},
 {"width":276,"height":221,"view":{"stroke":"#808080"},
  "encoding":{"x":{"field":"x","type":"quantitative","scale":{"domain":[0.6,3.5],"nice":false,"zero":false},"axis":{"title":"Electrical size(µm)","values":[1,1.5,2,2.5,3,3.5],"format":".1f","titleFontSize":16}},
   "y":{"field":"y","type":"quantitative","scale":{"domain":[0,1],"nice":false},"axis":{"title":"Position Factor","values":[0,0.25,0.5,0.75,1],"format":".2f","titleFontSize":16}}},
  "layer":[
   {"data":{"name":"eA"},"mark":{"type":"point","filled":true,"opacity":1,"angle":-10,"shape":"M-0.42,0 A0.42,1 0 1,1 0.42,0 A0.42,1 0 1,1 -0.42,0 Z"},"encoding":{"color":{"field":"k","type":"nominal","scale":{"domain":["p","b","L0","L1","L2","L3","L4","L5","L6","L7"],"range":["#8C00FF","#3A1CFF","#6A12FF","#2B2BFF","#0A7CFF","#00C8FF","#00D84A","#FFF000","#FF8A00","#FF0000"]},"legend":null},"size":{"field":"lv","type":"quantitative","scale":{"type":"linear","domain":[0,1,2,3,4,5,6,7],"range":[21316,16384,13456,10816,8100,6400,4900,2916]},"legend":null}}},
   {"data":{"name":"sA"},"mark":{"type":"point","shape":"square","filled":true,"opacity":1,"size":13},"encoding":{"color":{"field":"k","type":"nominal","scale":{"domain":["p","b","L0","L1","L2","L3","L4","L5","L6","L7"],"range":["#8C00FF","#3A1CFF","#6A12FF","#2B2BFF","#0A7CFF","#00C8FF","#00D84A","#FFF000","#FF8A00","#FF0000"]},"legend":null}}},
   {"data":{"name":"bA"},"mark":{"type":"point","shape":"square","filled":true,"opacity":1,"size":13},"encoding":{"color":{"field":"k","type":"nominal","scale":{"domain":["p","b","L0","L1","L2","L3","L4","L5","L6","L7"],"range":["#8C00FF","#3A1CFF","#6A12FF","#2B2BFF","#0A7CFF","#00C8FF","#00D84A","#FFF000","#FF8A00","#FF0000"]},"legend":null}}},
   {"data":{"values":[{"x":2.838,"y":0.466}]},"mark":{"type":"point","filled":false,"color":"#1FA055","opacity":1,"strokeWidth":2,"size":17956,"shape":"M-0.5,0 A0.5,1 0 1,1 0.5,0 A0.5,1 0 1,1 -0.5,0 Z"}},
   {"data":{"values":[{"x":1.514,"y":0.932,"s":"After calibration"}]},"mark":{"type":"text","align":"left","font":"Lato","fontSize":23.5,"color":"#FF0000"},"encoding":{"text":{"field":"s"}}},
   {"data":{"values":[{"x":1.777,"y":0.736,"s":"E.coli"}]},"mark":{"type":"text","align":"center","fontWeight":"bold","fontSize":15,"color":"#000"},"encoding":{"text":{"field":"s"}}},
   {"data":{"values":[{"x":1.542,"y":0.095,"s":"2.9µm calibration beads"}]},"mark":{"type":"text","align":"left","fontSize":16.5,"color":"#1FA055"},"encoding":{"text":{"field":"s"}}},
   {"data":{"values":[{"x":1.706,"y":0.683,"x2":1.53,"y2":0.615}]},"mark":{"type":"rule","color":"#333","strokeWidth":1},"encoding":{"x2":{"field":"x2"},"y2":{"field":"y2"}}},
   {"data":{"values":[{"x":1.528,"y":0.613}]},"mark":{"type":"point","shape":"triangle-right","filled":true,"color":"#000","opacity":1,"size":55,"angle":138}}
  ]},
 {"width":105,"height":1,"data":{"values":[{"z":0}]},"mark":{"type":"point","opacity":0}},
 {"width":275,"height":217,"view":{"stroke":"#808080"},
  "encoding":{"x":{"field":"x","type":"quantitative","scale":{"domain":[0.6,3.5],"nice":false,"zero":false},"axis":{"title":"Electrical size(µm)","values":[1,1.5,2,2.5,3,3.5],"format":".1f","titleFontSize":16}},
   "y":{"field":"y","type":"quantitative","scale":{"domain":[0,1],"nice":false},"axis":{"title":"Position Factor","values":[0,0.25,0.5,0.75,1],"format":".2f","titleFontSize":16}}},
  "layer":[
   {"data":{"name":"eB"},"mark":{"type":"point","filled":true,"opacity":1,"angle":-4,"shape":"M-0.44,0 A0.44,1 0 1,1 0.44,0 A0.44,1 0 1,1 -0.44,0 Z"},"encoding":{"color":{"field":"k","type":"nominal","scale":{"domain":["p","b","L0","L1","L2","L3","L4","L5","L6","L7"],"range":["#8C00FF","#3A1CFF","#6A12FF","#2B2BFF","#0A7CFF","#00C8FF","#00D84A","#FFF000","#FF8A00","#FF0000"]},"legend":null},"size":{"field":"lv","type":"quantitative","scale":{"type":"linear","domain":[0,1,2,3,4,5,6,7],"range":[19600,12544,10816,8836,6724,5184,3844,2500]},"legend":null}}},
   {"data":{"name":"sB"},"mark":{"type":"point","shape":"square","filled":true,"opacity":1,"size":13},"encoding":{"color":{"field":"k","type":"nominal","scale":{"domain":["p","b","L0","L1","L2","L3","L4","L5","L6","L7"],"range":["#8C00FF","#3A1CFF","#6A12FF","#2B2BFF","#0A7CFF","#00C8FF","#00D84A","#FFF000","#FF8A00","#FF0000"]},"legend":null}}},
   {"data":{"name":"bB"},"mark":{"type":"point","shape":"square","filled":true,"opacity":1,"size":13},"encoding":{"color":{"field":"k","type":"nominal","scale":{"domain":["p","b","L0","L1","L2","L3","L4","L5","L6","L7"],"range":["#8C00FF","#3A1CFF","#6A12FF","#2B2BFF","#0A7CFF","#00C8FF","#00D84A","#FFF000","#FF8A00","#FF0000"]},"legend":null}}},
   {"data":{"values":[{"x":2.894,"y":0.469}]},"mark":{"type":"point","filled":false,"color":"#1FA055","opacity":1,"strokeWidth":2,"size":17956,"angle":24,"shape":"M-0.56,0 A0.56,1 0 1,1 0.56,0 A0.56,1 0 1,1 -0.56,0 Z"}},
   {"data":{"values":[{"x":1.535,"y":0.932,"s":"Before calibration"}]},"mark":{"type":"text","align":"left","font":"Lato","fontSize":23.5,"color":"#FF0000"},"encoding":{"text":{"field":"s"}}},
   {"data":{"values":[{"x":1.957,"y":0.729,"s":"E.coli"}]},"mark":{"type":"text","align":"center","fontWeight":"bold","fontSize":15,"color":"#000"},"encoding":{"text":{"field":"s"}}},
   {"data":{"values":[{"x":1.57,"y":0.11,"s":"2.9µm calibration beads"}]},"mark":{"type":"text","align":"left","fontSize":16.5,"color":"#1FA055"},"encoding":{"text":{"field":"s"}}},
   {"data":{"values":[{"x":1.839,"y":0.675,"x2":1.63,"y2":0.605}]},"mark":{"type":"rule","color":"#333","strokeWidth":1},"encoding":{"x2":{"field":"x2"},"y2":{"field":"y2"}}},
   {"data":{"values":[{"x":1.625,"y":0.602}]},"mark":{"type":"point","shape":"triangle-right","filled":true,"color":"#000","opacity":1,"size":55,"angle":142}},
   {"data":{"values":[{"x":1.921,"y":1.143}]},"mark":{"type":"point","filled":true,"color":"#000","opacity":1,"size":1369,"angle":90,"shape":"M-1,-0.07 L0.3,-0.2 L0.3,-0.6 L1,0 L0.3,0.6 L0.3,0.2 L-1,0.07 Z"}}
  ]}
 ]}
]
}
